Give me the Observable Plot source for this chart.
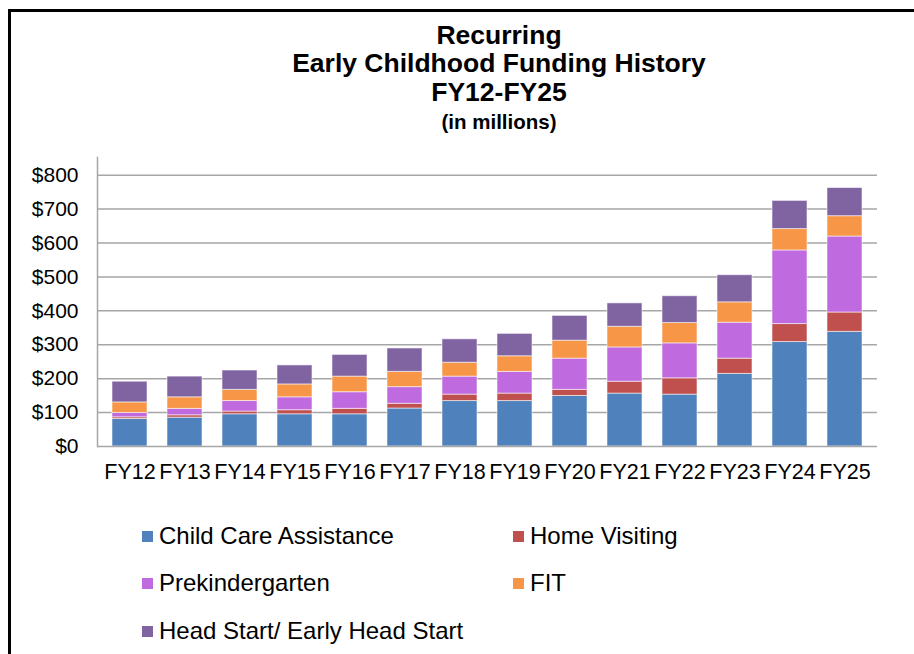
<!DOCTYPE html>
<html>
<head>
<meta charset="utf-8">
<script src="https://cdn.jsdelivr.net/npm/d3@7"></script>
<script src="https://cdn.jsdelivr.net/npm/@observablehq/plot@0.6"></script>
<style>
  html, body { margin: 0; padding: 0; background: #fff; }
  #page { position: relative; width: 914px; height: 654px; overflow: hidden; background: #fff; font-family: "Liberation Sans", Arial, sans-serif; color: #000; }
  #frame { position: absolute; left: 8px; top: 9px; width: 1000px; height: 1000px; border-left: 3px solid #000; border-top: 3px solid #000; }
  .tl { position: absolute; left: 249px; width: 500px; text-align: center; font-weight: bold; white-space: nowrap; }
  #chart { position: absolute; left: 0; top: 140px; }
  .leg { position: absolute; font-size: 24px; white-space: nowrap; display: flex; align-items: center; }
  .sw { width: 11px; height: 11px; margin-right: 6px; }
</style>
</head>
<body>
<div id="page">
  <div id="frame"></div>
  <div class="tl" style="top:20px;font-size:26.5px;line-height:30px;">Recurring</div>
  <div class="tl" style="top:48px;font-size:26.5px;line-height:30px;">Early Childhood Funding History</div>
  <div class="tl" style="top:77px;font-size:26.5px;line-height:30px;">FY12-FY25</div>
  <div class="tl" style="top:110px;font-size:20.5px;line-height:24px;">(in millions)</div>
  <div id="chart"></div>
  <div id="legend"></div>
</div>
<script>
const categories = ["FY12","FY13","FY14","FY15","FY16","FY17","FY18","FY19","FY20","FY21","FY22","FY23","FY24","FY25"];
const seriesNames = ["Child Care Assistance","Home Visiting","Prekindergarten","FIT","Head Start/ Early Head Start"];
const childCare    = [81, 85, 95, 95, 95, 112, 134, 134, 149, 156, 153, 214, 308, 338];
const homeVisiting = [5, 7, 8, 12, 16, 14, 19, 22, 18, 35, 48, 45, 53, 57];
const preK         = [13, 19, 31, 38, 49, 49, 53, 64, 92, 101, 103, 106, 217, 224];
const fit          = [31, 34, 33, 38, 46, 45, 41, 46, 53, 61, 60, 60, 63, 60];
const headStart    = [61, 61, 57, 56, 64, 69, 69, 66, 73, 69, 79, 80, 83, 83];
const yTicks = [0, 100, 200, 300, 400, 500, 600, 700, 800];
const colors = ["#4F81BD", "#C0504D", "#C06ADF", "#F79646", "#8064A2"];

const seriesValues = [childCare, homeVisiting, preK, fit, headStart];
const data = [];
categories.forEach((c, i) => {
  seriesNames.forEach((s, j) => data.push({year: c, series: s, value: seriesValues[j][i]}));
});

const chart = Plot.plot({
  width: 914,
  height: 350,
  marginLeft: 97,
  marginRight: 37,
  marginTop: 17,
  marginBottom: 44,
  style: {fontFamily: "'Liberation Sans', Arial, sans-serif", color: "#000", background: "transparent"},
  x: {domain: categories, paddingInner: 0.37, paddingOuter: 0.185, label: null},
  y: {domain: [0, 852], label: null},
  color: {domain: seriesNames, range: colors},
  marks: [
    Plot.ruleY(yTicks.filter(d => d > 0), {stroke: "#a6a6a6", strokeWidth: 1.5}),
    Plot.barY(data, {x: "year", y: "value", fill: "series", stroke: "#ffffff", strokeOpacity: 0.55, strokeWidth: 1}),
    Plot.ruleY([0], {stroke: "#a6a6a6", strokeWidth: 1.5}),
    Plot.frame({anchor: "left", stroke: "#a6a6a6", strokeWidth: 1.5}),
    Plot.axisY({ticks: yTicks, tickFormat: d => "$" + d, tickSize: 0, tickPadding: 19, fontSize: 21, label: null}),
    Plot.axisX({tickSize: 0, tickPadding: 17, fontSize: 21.5, label: null})
  ]
});
document.getElementById("chart").appendChild(chart);

const legendPos = [
  {x: 142, y: 536}, {x: 513, y: 536},
  {x: 142, y: 583}, {x: 513, y: 583},
  {x: 142, y: 631}
];
const leg = document.getElementById("legend");
seriesNames.forEach((s, i) => {
  const d = document.createElement("div");
  d.className = "leg";
  d.style.left = legendPos[i].x + "px";
  d.style.top = (legendPos[i].y - 14) + "px";
  d.style.height = "28px";
  const sw = document.createElement("span");
  sw.className = "sw";
  sw.style.background = colors[i];
  const t = document.createElement("span");
  t.textContent = s;
  d.appendChild(sw); d.appendChild(t);
  leg.appendChild(d);
});
</script>
</body>
</html>
